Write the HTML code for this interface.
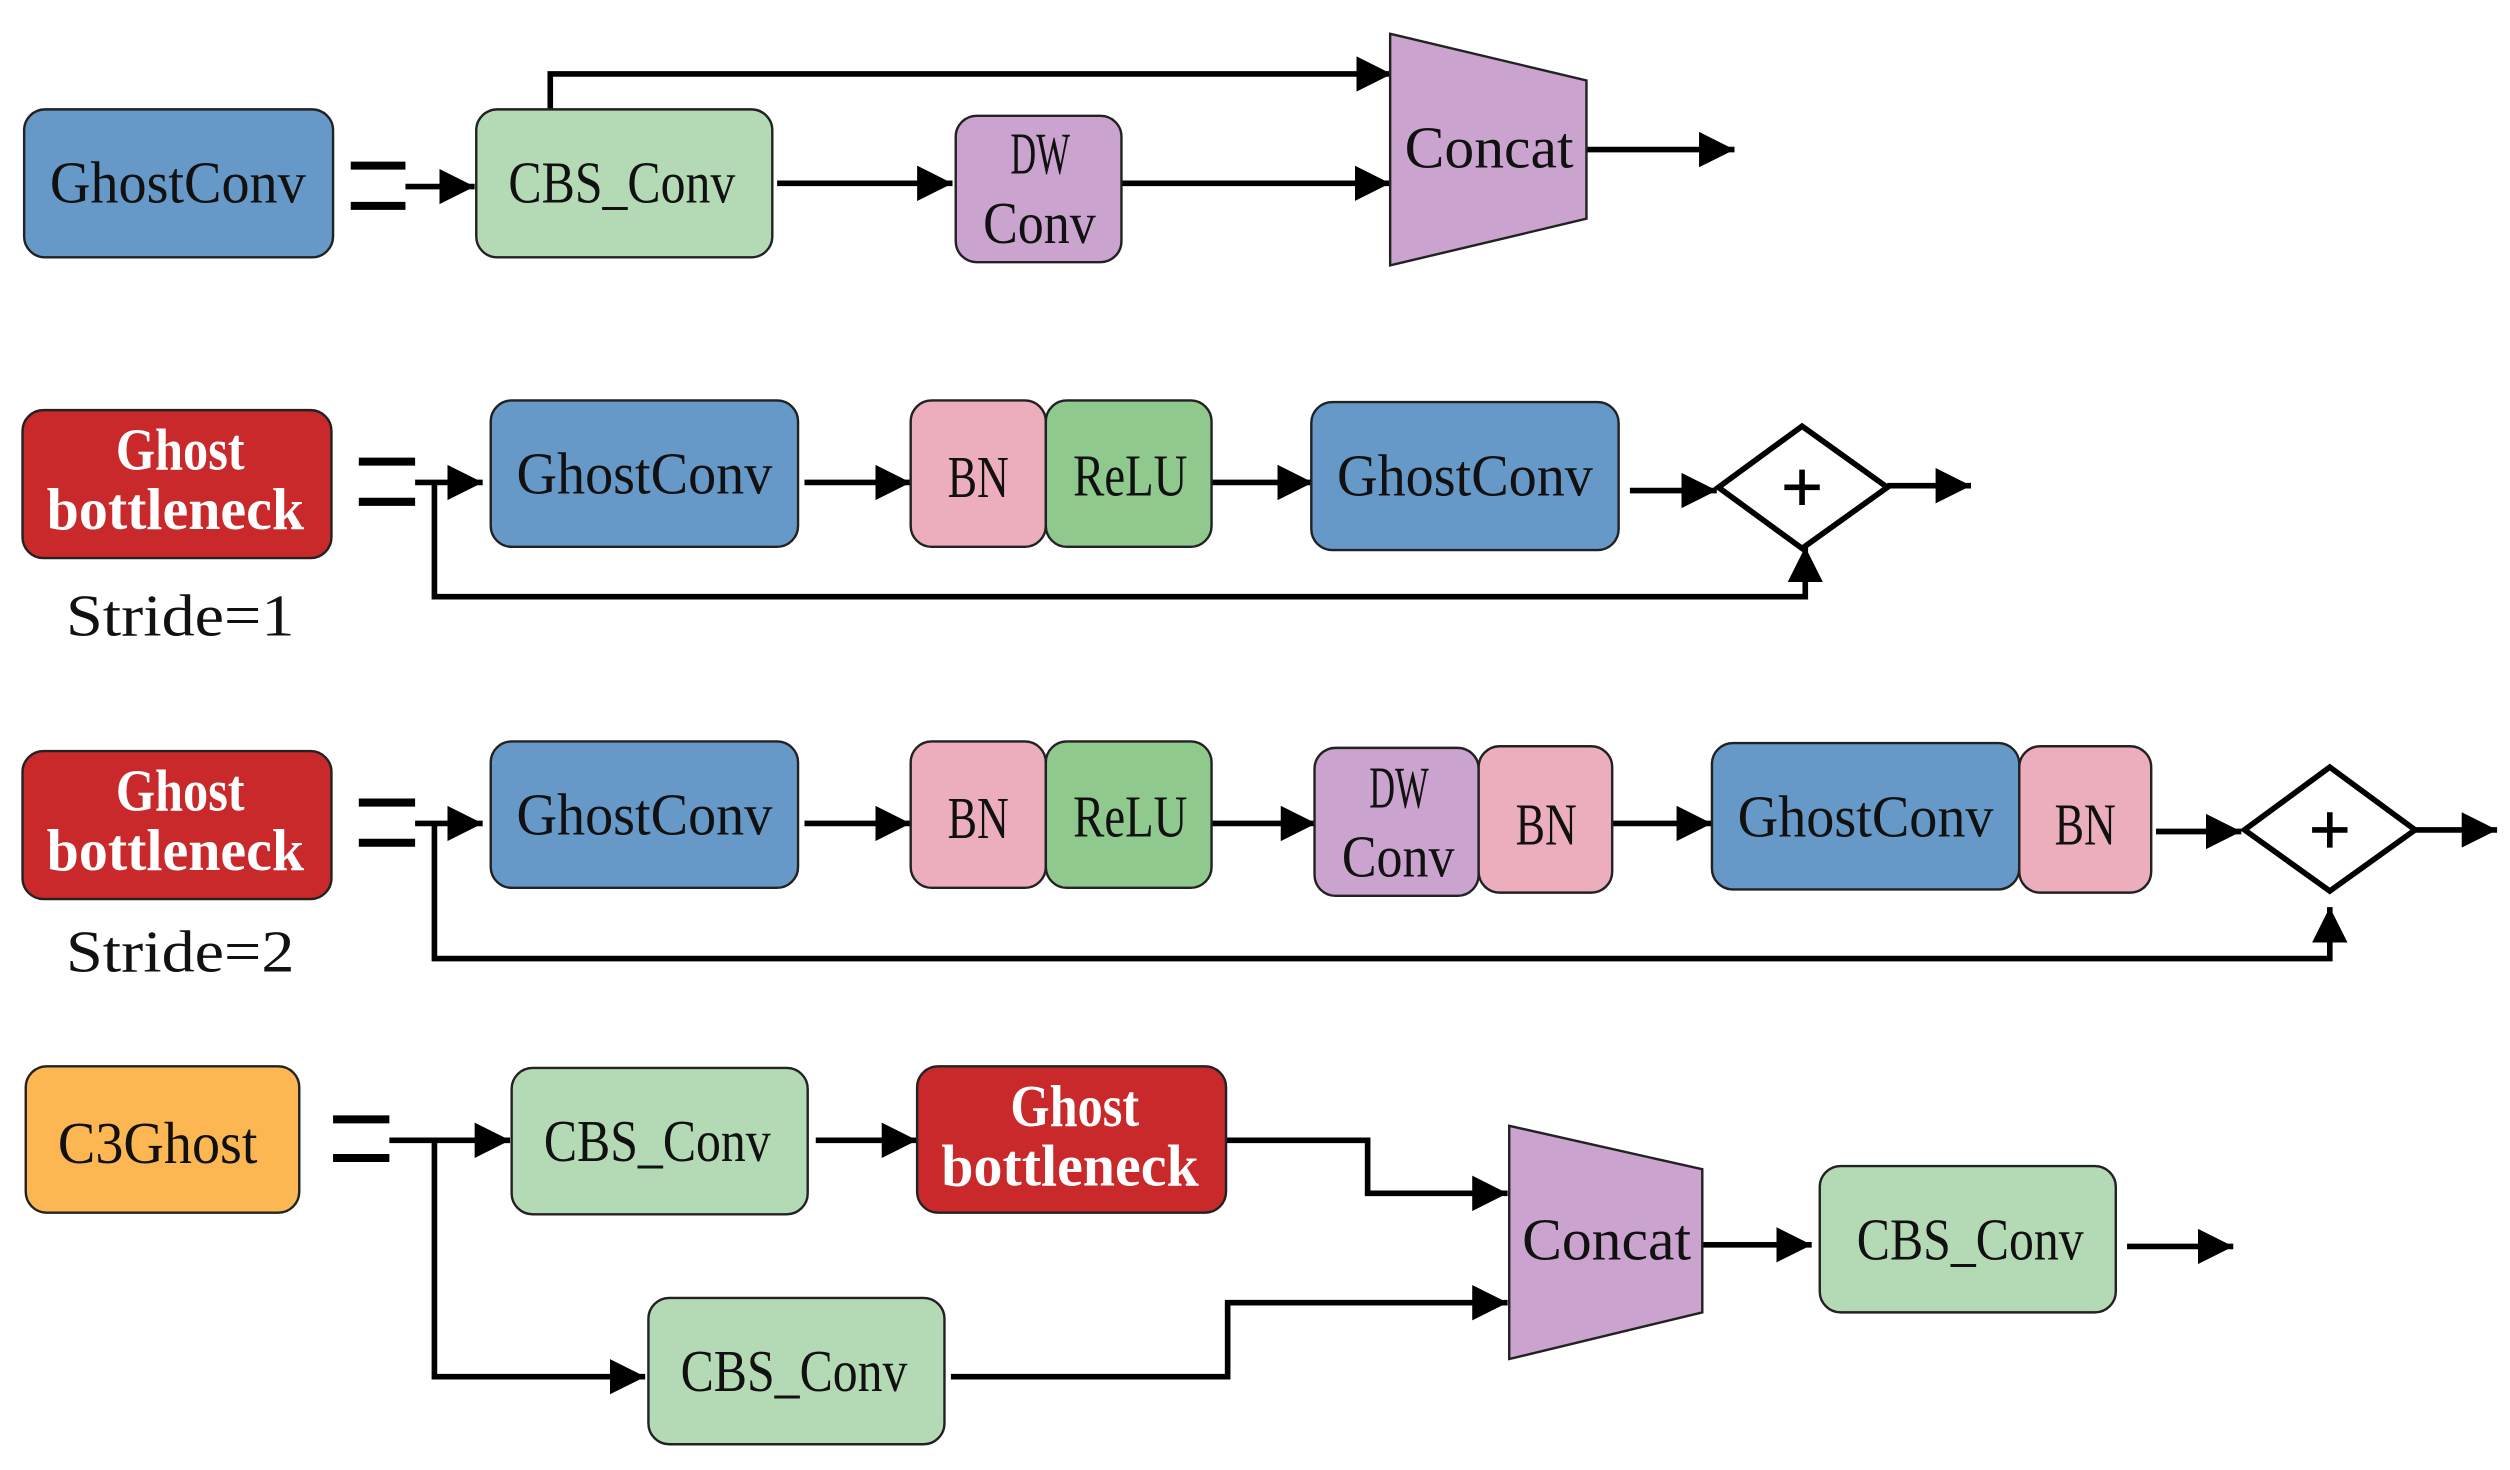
<!DOCTYPE html>
<html><head><meta charset="utf-8"><style>
html,body{margin:0;padding:0;background:#fff;}
svg{display:block;}
text{font-family:"Liberation Serif",serif;font-size:37px;fill:#111;}
.w{fill:#fff;font-weight:bold;}
</style></head><body>
<svg width="2510" height="1470" viewBox="0 0 1560 914" preserveAspectRatio="none" xmlns="http://www.w3.org/2000/svg">
<defs>
<marker id="a" markerUnits="userSpaceOnUse" markerWidth="22" markerHeight="22" refX="22" refY="11" orient="auto">
<path d="M0,0 L22,11 L0,22 z" fill="#000"/>
</marker>
</defs>
<g stroke="#000" stroke-width="5">
<line x1="218" y1="103" x2="252" y2="103"/><line x1="218" y1="128" x2="252" y2="128"/>
<line x1="223" y1="287" x2="258" y2="287"/><line x1="223" y1="312" x2="258" y2="312"/>
<line x1="223" y1="499" x2="258" y2="499"/><line x1="223" y1="524" x2="258" y2="524"/>
<line x1="207" y1="696" x2="242" y2="696"/><line x1="207" y1="720" x2="242" y2="720"/>
</g>
<g stroke="#000" stroke-width="3.5" fill="none">
<!-- Row 1 -->
<line x1="252" y1="116" x2="295" y2="116" marker-end="url(#a)"/>
<polyline points="342,68 342,46 865,46" marker-end="url(#a)"/>
<line x1="483" y1="114" x2="592" y2="114" marker-end="url(#a)"/>
<line x1="697" y1="114" x2="864" y2="114" marker-end="url(#a)"/>
<line x1="986" y1="93" x2="1078" y2="93" marker-end="url(#a)"/>
<!-- Row 2 -->
<line x1="258" y1="300" x2="300" y2="300" marker-end="url(#a)"/>
<polyline points="270,300 270,371 1122,371 1122,340" marker-end="url(#a)"/>
<line x1="500" y1="300" x2="566" y2="300" marker-end="url(#a)"/>
<line x1="753" y1="300" x2="816" y2="300" marker-end="url(#a)"/>
<line x1="1013" y1="305" x2="1067" y2="305" marker-end="url(#a)"/>
<line x1="1173" y1="302" x2="1225" y2="302" marker-end="url(#a)"/>
<!-- Row 3 -->
<line x1="258" y1="512" x2="300" y2="512" marker-end="url(#a)"/>
<polyline points="270,512 270,596 1448,596 1448,564" marker-end="url(#a)"/>
<line x1="500" y1="512" x2="566" y2="512" marker-end="url(#a)"/>
<line x1="753" y1="512" x2="818" y2="512" marker-end="url(#a)"/>
<line x1="1002" y1="512" x2="1064" y2="512" marker-end="url(#a)"/>
<line x1="1340" y1="517" x2="1393" y2="517" marker-end="url(#a)"/>
<line x1="1501" y1="516" x2="1552" y2="516" marker-end="url(#a)"/>
<!-- Row 4 -->
<line x1="242" y1="709" x2="317" y2="709" marker-end="url(#a)"/>
<polyline points="270,709 270,856 401,856" marker-end="url(#a)"/>
<line x1="507" y1="709" x2="570" y2="709" marker-end="url(#a)"/>
<polyline points="762,709 850,709 850,742 937,742" marker-end="url(#a)"/>
<polyline points="591,856 763,856 763,810 937,810" marker-end="url(#a)"/>
<line x1="1058" y1="774" x2="1126" y2="774" marker-end="url(#a)"/>
<line x1="1322" y1="775" x2="1388" y2="775" marker-end="url(#a)"/>
</g>
<g stroke="#222" stroke-width="1.5">
<rect x="15" y="68" width="192" height="92" rx="13" fill="#6699c8"/>
<rect x="296" y="68" width="184" height="92" rx="13" fill="#b4dab5"/>
<rect x="594" y="72" width="103" height="91" rx="13" fill="#cba3cf"/>
<polygon points="864,21 986,50 986,136 864,165" fill="#cba3cf"/>
<rect x="14" y="255" width="192" height="92" rx="13" fill="#c9292a"/>
<rect x="305" y="249" width="191" height="91" rx="13" fill="#6699c8"/>
<rect x="566" y="249" width="84" height="91" rx="13" fill="#ecadbd"/>
<rect x="650" y="249" width="103" height="91" rx="13" fill="#90c98e"/>
<rect x="815" y="250" width="191" height="92" rx="13" fill="#6699c8"/>
<rect x="14" y="467" width="192" height="92" rx="13" fill="#c9292a"/>
<rect x="305" y="461" width="191" height="91" rx="13" fill="#6699c8"/>
<rect x="566" y="461" width="84" height="91" rx="13" fill="#ecadbd"/>
<rect x="650" y="461" width="103" height="91" rx="13" fill="#90c98e"/>
<rect x="817" y="465" width="102" height="92" rx="13" fill="#cba3cf"/>
<rect x="919" y="464" width="83" height="91" rx="13" fill="#ecadbd"/>
<rect x="1064" y="462" width="191" height="91" rx="13" fill="#6699c8"/>
<rect x="1255" y="464" width="82" height="91" rx="13" fill="#ecadbd"/>
<rect x="16" y="663" width="170" height="91" rx="13" fill="#fdb752"/>
<rect x="318" y="664" width="184" height="91" rx="13" fill="#b4dab5"/>
<rect x="570" y="663" width="192" height="91" rx="13" fill="#c9292a"/>
<rect x="403" y="807" width="184" height="91" rx="13" fill="#b4dab5"/>
<polygon points="938,700 1058,727 1058,816 938,845" fill="#cba3cf"/>
<rect x="1131" y="725" width="184" height="91" rx="13" fill="#b4dab5"/>
</g>
<g stroke="#000" stroke-width="3.5" fill="#fff">
<polygon points="1120,265 1173,303 1120,341 1068,303"/>
<polygon points="1448,477 1501,516 1448,554 1395,516"/>
</g>
<g stroke="#000" stroke-width="3.5">
<line x1="1109" y1="303" x2="1131" y2="303"/><line x1="1120" y1="292" x2="1120" y2="314"/>
<line x1="1437" y1="516" x2="1459" y2="516"/><line x1="1448" y1="505" x2="1448" y2="527"/>
</g>
<g>
<text x="31" y="126" textLength="159" lengthAdjust="spacingAndGlyphs">GhostConv</text>
<text x="316" y="126" textLength="141" lengthAdjust="spacingAndGlyphs">CBS_Conv</text>
<text x="628" y="108" textLength="37" lengthAdjust="spacingAndGlyphs">DW</text>
<text x="611" y="151" textLength="70" lengthAdjust="spacingAndGlyphs">Conv</text>
<text x="873" y="104" textLength="105" lengthAdjust="spacingAndGlyphs">Concat</text>

<text class="w" x="72" y="292" textLength="80" lengthAdjust="spacingAndGlyphs">Ghost</text>
<text class="w" x="29" y="329" textLength="160" lengthAdjust="spacingAndGlyphs">bottleneck</text>
<text x="41" y="395" textLength="142" lengthAdjust="spacingAndGlyphs">Stride=1</text>
<text x="321" y="307" textLength="159" lengthAdjust="spacingAndGlyphs">GhostConv</text>
<text x="589" y="309" textLength="38" lengthAdjust="spacingAndGlyphs">BN</text>
<text x="667" y="308" textLength="71" lengthAdjust="spacingAndGlyphs">ReLU</text>
<text x="831" y="308" textLength="159" lengthAdjust="spacingAndGlyphs">GhostConv</text>

<text class="w" x="72" y="504" textLength="80" lengthAdjust="spacingAndGlyphs">Ghost</text>
<text class="w" x="29" y="541" textLength="160" lengthAdjust="spacingAndGlyphs">bottleneck</text>
<text x="41" y="604" textLength="142" lengthAdjust="spacingAndGlyphs">Stride=2</text>
<text x="321" y="519" textLength="159" lengthAdjust="spacingAndGlyphs">GhostConv</text>
<text x="589" y="521" textLength="38" lengthAdjust="spacingAndGlyphs">BN</text>
<text x="667" y="520" textLength="71" lengthAdjust="spacingAndGlyphs">ReLU</text>
<text x="851" y="502" textLength="37" lengthAdjust="spacingAndGlyphs">DW</text>
<text x="834" y="545" textLength="70" lengthAdjust="spacingAndGlyphs">Conv</text>
<text x="942" y="525" textLength="38" lengthAdjust="spacingAndGlyphs">BN</text>
<text x="1080" y="520" textLength="159" lengthAdjust="spacingAndGlyphs">GhostConv</text>
<text x="1277" y="525" textLength="38" lengthAdjust="spacingAndGlyphs">BN</text>

<text x="36" y="723" textLength="124" lengthAdjust="spacingAndGlyphs">C3Ghost</text>
<text x="338" y="722" textLength="141" lengthAdjust="spacingAndGlyphs">CBS_Conv</text>
<text class="w" x="628" y="700" textLength="80" lengthAdjust="spacingAndGlyphs">Ghost</text>
<text class="w" x="585" y="737" textLength="160" lengthAdjust="spacingAndGlyphs">bottleneck</text>
<text x="423" y="865" textLength="141" lengthAdjust="spacingAndGlyphs">CBS_Conv</text>
<text x="946" y="783" textLength="105" lengthAdjust="spacingAndGlyphs">Concat</text>
<text x="1154" y="783" textLength="141" lengthAdjust="spacingAndGlyphs">CBS_Conv</text>
</g>
</svg>
</body></html>
